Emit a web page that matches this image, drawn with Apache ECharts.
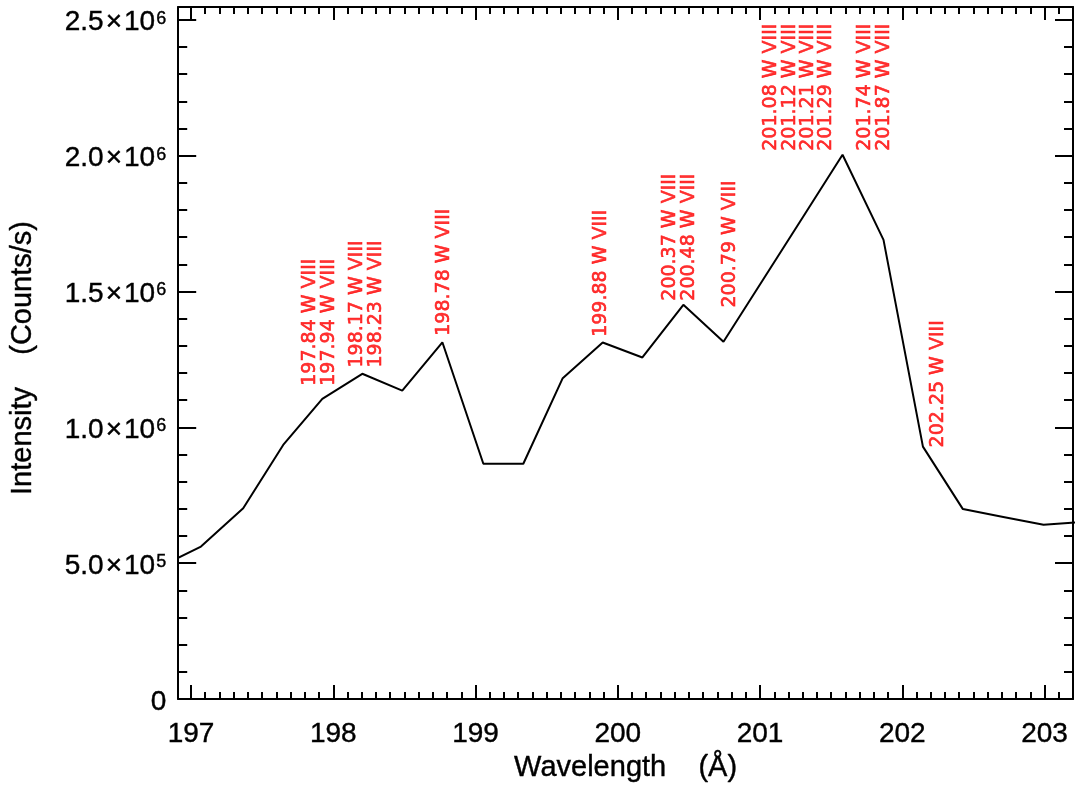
<!DOCTYPE html>
<html>
<head>
<meta charset="utf-8">
<script src="https://cdn.jsdelivr.net/npm/echarts@6/dist/echarts.min.js"></script>
<style>
  html, body { margin: 0; padding: 0; background: #fff; }
  #chart { width: 1076px; height: 788px; }
</style>
</head>
<body>
<div id="chart"></div>
<script>
// Spectrum samples: wavelength (Å) and intensity (counts/s)
const wavelength = [196.79, 197.07, 197.367, 197.648, 197.923, 198.204, 198.485, 198.767,
  199.055, 199.336, 199.613, 199.894, 200.173, 200.461, 200.743, 201.022, 201.303, 201.58,
  201.868, 202.145, 202.426, 202.71, 202.993, 203.275];
const intensity = [489000, 561000, 702000, 935000, 1105000, 1197000, 1135000, 1313000,
  866000, 866000, 1181000, 1312000, 1257000, 1451000, 1315000, 1544000, 1775000, 2003000,
  1690000, 929000, 699000, 670000, 641000, 652000];

// Line identifications and the height at which each tag starts
const idWavelengths = [197.84, 197.94, 198.17, 198.23, 198.78, 199.88, 200.37, 200.48,
  200.79, 201.08, 201.12, 201.21, 201.29, 201.74, 201.87, 202.25];
const idIons = ['W VIII', 'W VIII', 'W VIII', 'W VIII', 'W VIII', 'W VIII', 'W VIII', 'W VIII',
  'W VIII', 'W VIII', 'W VIII', 'W VIII', 'W VIII', 'W VIII', 'W VIII', 'W VIII'];
const idHeights = [1153000, 1153000, 1220000, 1220000, 1337000, 1333000, 1466000, 1466000,
  1441000, 2018000, 2018000, 2018000, 2018000, 2018000, 2018000, 926000];

// Axis ranges and ticks
const xRange = [196.91, 203.2];
const yRange = [0, 2547000];
const xMajorTicks = [197, 198, 199, 200, 201, 202, 203];
const yMajorTicks = [0, 500000, 1000000, 1500000, 2000000, 2500000];
const yTickMantissa = ['0', '5.0', '1.0', '1.5', '2.0', '2.5'];
const yTickExponent = ['', '5', '6', '6', '6', '6'];

const xMinorTicks = [];
for (let i = 0; i <= 62; i++) xMinorTicks.push(+(197 + i * 0.1).toFixed(1));
const yMinorTicks = [];
for (let i = 0; i <= 25; i++) yMinorTicks.push(i * 100000);

// Tags closer than this (in Å) are spread apart so their columns do not overlap
const tagGap = 0.1287;
const tagX = [];
idWavelengths.forEach((w, i) => {
  let x = w;
  if (i > 0 && x < tagX[i - 1] + tagGap) x = tagX[i - 1] + tagGap;
  tagX.push(x);
});

const lineData = wavelength.map((w, i) => [w, intensity[i]]);
const tagData = idWavelengths.map((w, i) => ({
  value: [tagX[i], idHeights[i]],
  name: w.toFixed(2) + ' ' + idIons[i]
}));

const FONT = 'Liberation Sans';
const axisColor = '#000';
const ink = { textBorderColor: '#000', textBorderWidth: 0.4 };

function xAxisDef(position, ticks, len, showLine, showLabel) {
  return {
    type: 'value', position: position, min: xRange[0], max: xRange[1],
    axisLine: { show: showLine, onZero: false, lineStyle: { color: axisColor, width: 2 } },
    axisTick: { show: true, inside: true, length: len, customValues: ticks,
      lineStyle: { color: axisColor, width: 2 } },
    axisLabel: showLabel ? Object.assign({
      show: true, customValues: xMajorTicks, margin: 21, color: '#000',
      fontFamily: FONT, fontSize: 28, formatter: v => String(Math.round(v))
    }, ink) : { show: false },
    splitLine: { show: false }
  };
}

function yAxisDef(position, ticks, len, showLine, showLabel) {
  return {
    type: 'value', position: position, min: yRange[0], max: yRange[1],
    axisLine: { show: showLine, onZero: false, lineStyle: { color: axisColor, width: 2 } },
    axisTick: { show: true, inside: true, length: len, customValues: ticks,
      lineStyle: { color: axisColor, width: 2 } },
    axisLabel: showLabel ? {
      show: true, customValues: yMajorTicks, margin: 12, padding: [6, 0, 0, 0],
      formatter: v => {
        const k = yMajorTicks.indexOf(v);
        if (k < 0) return '';
        if (!yTickExponent[k]) return '{m|' + yTickMantissa[k] + '}';
        return '{m|' + yTickMantissa[k] + '}{x|×}{m|10}{e|' + yTickExponent[k] + '}';
      },
      rich: {
        m: Object.assign({ fontFamily: FONT, fontSize: 28, color: '#000' }, ink),
        x: Object.assign({ fontFamily: FONT, fontSize: 28, color: '#000', padding: [0, 2, 0, 2] }, ink),
        e: Object.assign({ fontFamily: FONT, fontSize: 18, color: '#000', verticalAlign: 'top', padding: [1, 0, 0, 1] }, ink)
      }
    } : { show: false },
    splitLine: { show: false }
  };
}

const xAxes = [
  xAxisDef('bottom', xMajorTicks, 14, true, true),
  xAxisDef('bottom', xMinorTicks, 7, false, false),
  xAxisDef('top', xMajorTicks, 13, true, false),
  xAxisDef('top', xMinorTicks, 7, false, false)
];
xAxes[0].name = 'Wavelength    (Å)';
xAxes[0].nameLocation = 'middle';
xAxes[0].nameGap = 51;
xAxes[0].nameTextStyle = Object.assign({ fontFamily: FONT, fontSize: 29, color: '#000' }, ink);

const yAxes = [
  yAxisDef('left', yMajorTicks, 18, true, true),
  yAxisDef('left', yMinorTicks, 9, false, false),
  yAxisDef('right', yMajorTicks, 18, true, false),
  yAxisDef('right', yMinorTicks, 9, false, false)
];
yAxes[0].name = 'Intensity    (Counts/s)';
yAxes[0].nameLocation = 'middle';
yAxes[0].nameGap = 141;
yAxes[0].nameTextStyle = Object.assign({ fontFamily: FONT, fontSize: 29, color: '#000', padding: [0, 10, 0, 0] }, ink);

const chart = echarts.init(document.getElementById('chart'), null, { renderer: 'canvas' });
chart.setOption({
  animation: false,
  backgroundColor: '#fff',
  grid: { left: 178, top: 7, width: 895, height: 692, containLabel: false },
  xAxis: xAxes,
  yAxis: yAxes,
  series: [
    {
      type: 'line', xAxisIndex: 0, yAxisIndex: 0, data: lineData,
      symbol: 'none', clip: true, silent: true,
      lineStyle: { color: '#000', width: 2 }
    },
    {
      type: 'scatter', xAxisIndex: 0, yAxisIndex: 0, data: tagData,
      symbolSize: 1, itemStyle: { color: 'transparent' }, silent: true,
      label: {
        show: true, position: 'inside', rotate: 90, align: 'left', verticalAlign: 'middle',
        formatter: p => p.name, color: '#ff0000', fontFamily: 'DejaVu Sans', fontSize: 19,
        textBorderColor: '#ff0000', textBorderWidth: 0.6
      },
      emphasis: { disabled: true }
    }
  ]
});
</script>
</body>
</html>
